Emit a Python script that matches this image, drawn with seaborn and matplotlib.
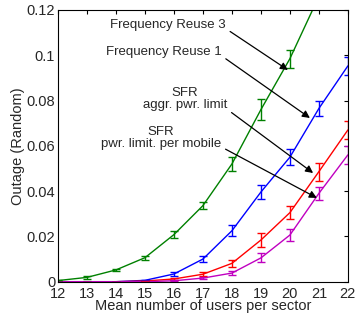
import numpy as np
import pandas as pd
import matplotlib
matplotlib.use("Agg")
import matplotlib.pyplot as plt
import seaborn as sns

# values
users = [12, 13, 14, 15, 16, 17, 18, 19, 20, 21, 22]

reuse3 = [0.0005, 0.0019, 0.0052, 0.0106, 0.0208, 0.0336, 0.052, 0.076, 0.0985, 0.126, 0.16]
reuse3_err = [0.0002, 0.0005, 0.0006, 0.0009, 0.0015, 0.0015, 0.003, 0.0045, 0.004, 0.004, 0.004]

reuse1 = [0.0, 0.0, 0.0, 0.0006, 0.0034, 0.010, 0.0225, 0.0396, 0.055, 0.0765, 0.0953]
reuse1_err = [0.0, 0.0, 0.0, 0.0003, 0.001, 0.0015, 0.0025, 0.003, 0.0035, 0.0035, 0.004]

sfr_aggr = [0.0, 0.0, 0.0, 0.0003, 0.0012, 0.0033, 0.0081, 0.0184, 0.0305, 0.0486, 0.067]
sfr_aggr_err = [0.0, 0.0, 0.0, 0.0002, 0.0005, 0.001, 0.0015, 0.003, 0.003, 0.004, 0.004]

sfr_mobile = [0.0, 0.0, 0.0, 0.0, 0.0004, 0.0016, 0.0038, 0.0105, 0.0206, 0.039, 0.056]
sfr_mobile_err = [0.0, 0.0, 0.0, 0.0, 0.0002, 0.0005, 0.001, 0.002, 0.0025, 0.003, 0.004]

names = ["Frequency Reuse 3", "Frequency Reuse 1", "SFR aggr", "SFR mobile"]
colors = ["#008000", "#0000ff", "#ff0000", "#c000c0"]

df = pd.DataFrame({
    "users": users * 4,
    "outage": reuse3 + reuse1 + sfr_aggr + sfr_mobile,
    "err": reuse3_err + reuse1_err + sfr_aggr_err + sfr_mobile_err,
    "scheme": sum([[n] * len(users) for n in names], []),
})

sns.set_style("white")
plt.rcParams["font.family"] = ["Liberation Sans", "DejaVu Sans"]

fig = plt.figure(figsize=(3.59, 3.18), dpi=100)
ax = fig.add_axes([0.1616, 0.1142, 0.8074, 0.8544])

sns.lineplot(data=df, x="users", y="outage", hue="scheme", palette=colors,
             hue_order=names, linewidth=1.0, legend=False, ax=ax, errorbar=None)

for name, c in zip(names, colors):
    sub = df[df["scheme"] == name]
    ax.errorbar(sub["users"], sub["outage"], yerr=sub["err"], fmt="none",
                ecolor=c, elinewidth=1.0, capsize=3, capthick=1.0)

ax.set_xlim(12, 22)
ax.set_ylim(0, 0.12)
ax.set_xticks(range(12, 23))
ax.set_yticks([0, 0.02, 0.04, 0.06, 0.08, 0.1, 0.12])
ax.set_yticklabels(["0", "0.02", "0.04", "0.06", "0.08", "0.1", "0.12"])
ax.tick_params(direction="in", length=3, labelsize=10.5, top=True, right=True,
               pad=2, color="black")
ax.tick_params(axis="x", pad=3.5)
for s in ax.spines.values():
    s.set_color("black")
    s.set_linewidth(0.8)

ax.set_xlabel("Mean number of users per sector", fontsize=10.5, labelpad=-1)
ax.set_ylabel("Outage (Random)", fontsize=10.5, labelpad=1)


def arrow(rx, ry):
    return dict(arrowstyle="-|>", color="black", lw=0.9, mutation_scale=11,
                relpos=(rx, ry), shrinkA=1, shrinkB=0)


ax.annotate("Frequency Reuse 3", xy=(19.93, 0.0935), xytext=(15.79, 0.1134),
            fontsize=9.5, ha="center", va="center", arrowprops=arrow(1.0, 0.2))
ax.annotate("Frequency Reuse 1", xy=(20.69, 0.0723), xytext=(15.64, 0.1014),
            fontsize=9.5, ha="center", va="center", arrowprops=arrow(1.0, 0.2))
ax.annotate("SFR\naggr. pwr. limit", xy=(20.8, 0.048), xytext=(16.38, 0.0809),
            fontsize=9.5, ha="center", va="center", linespacing=1.0,
            arrowprops=arrow(1.0, 0.05))
ax.annotate("SFR\npwr. limit. per mobile", xy=(20.93, 0.037), xytext=(15.55, 0.0633),
            fontsize=9.5, ha="center", va="center", linespacing=1.0,
            arrowprops=arrow(1.0, 0.15))

fig.savefig("out.png", dpi=100)
